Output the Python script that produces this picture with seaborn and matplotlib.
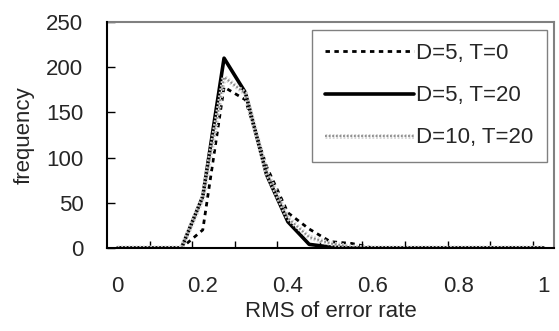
import numpy as np
import pandas as pd
import matplotlib
matplotlib.use('Agg')
import matplotlib.pyplot as plt
import matplotlib.patheffects as pe
from matplotlib.ticker import FixedLocator
import seaborn as sns

# RMS error rate bins (category axis, step 0.05)
rms = [0.0, 0.05, 0.1, 0.15, 0.2, 0.25, 0.3, 0.35, 0.4, 0.45, 0.5,
       0.55, 0.6, 0.65, 0.7, 0.75, 0.8, 0.85, 0.9, 0.95, 1.0]

# frequencies
freq_d5_t0 = [0, 0, 0, 0, 20, 178, 164, 90, 39, 21, 7, 5, 0, 0, 0, 0, 0, 0, 0, 0, 0]
freq_d5_t20 = [0, 0, 0, 0, 57, 210, 172, 81, 29, 4, 1, 0, 0, 0, 0, 0, 0, 0, 0, 0, 0]
freq_d10_t20 = [0, 0, 0, 0, 55, 189, 171, 84, 33, 12, 5, 1, 0, 0, 0, 0, 0, 0, 0, 0, 0]

labels = ['D=5, T=0', 'D=5, T=20', 'D=10, T=20']
xtick_vals = [0, 0.2, 0.4, 0.6, 0.8, 1.0]
xtick_labels = ['0', '0.2', '0.4', '0.6', '0.8', '1']
ytick_vals = [0, 50, 100, 150, 200, 250]

df = pd.DataFrame({'rms': rms, 'a': freq_d5_t0, 'b': freq_d5_t20, 'c': freq_d10_t20})

sns.set_style('white')
plt.rcParams['font.family'] = ['Liberation Sans', 'DejaVu Sans']
fs = 16

fig = plt.figure(figsize=(5.59, 3.31), dpi=100)
ax = fig.add_axes([0.1914, 0.2508, 0.7996, 0.6827])

sns.lineplot(data=df, x='rms', y='a', ax=ax, color='black', lw=2.0,
             linestyle=(0, (1.6, 1.6)), label=labels[0])
sns.lineplot(data=df, x='rms', y='b', ax=ax, color='black', lw=2.6,
             linestyle='-', label=labels[1])
sns.lineplot(data=df, x='rms', y='c', ax=ax, color='#8a8a8a', lw=1.3,
             linestyle=(0, (1, 1)), label=labels[2],
             path_effects=[pe.Stroke(linewidth=3.6, foreground='#d6d6d6'), pe.Normal()])

ax.set_xlim(-0.025, 1.025)
ax.set_ylim(0, 250)
ax.set_xticks(xtick_vals)
ax.set_xticklabels(xtick_labels)
ax.xaxis.set_minor_locator(FixedLocator(np.arange(0.075, 1.0, 0.1)))
ax.set_yticks(ytick_vals)

ax.tick_params(axis='x', which='major', length=0, pad=20, labelsize=fs)
ax.tick_params(axis='x', which='minor', direction='in', length=5, width=1, color='black', bottom=True)
ax.tick_params(axis='y', direction='in', length=5.5, width=1, color='black', left=True,
               pad=17, labelsize=fs)

ax.set_xlabel('RMS of error rate', fontsize=fs)
ax.set_ylabel('frequency', fontsize=fs)
ax.xaxis.set_label_coords(0.5, -0.28)
ax.yaxis.set_label_coords(-0.185, 0.5)
ax.xaxis.label.set_va('center')
ax.yaxis.label.set_va('center')

for side in ['left', 'bottom']:
    ax.spines[side].set_color('black')
    ax.spines[side].set_linewidth(1.5)
for side in ['top', 'right']:
    ax.spines[side].set_color('#808080')
    ax.spines[side].set_linewidth(1.5)
ax.spines['left'].set_zorder(5)
ax.spines['bottom'].set_zorder(5)

leg = ax.legend(loc='upper right', bbox_to_anchor=(0.984, 0.965), fontsize=fs,
                handlelength=4.0, handletextpad=0.1, labelspacing=0.95,
                borderpad=0.6, borderaxespad=0, fancybox=False, frameon=True)
leg.get_frame().set_edgecolor('#606060')
leg.get_frame().set_linewidth(1.0)

fig.savefig('out.png', dpi=100)
